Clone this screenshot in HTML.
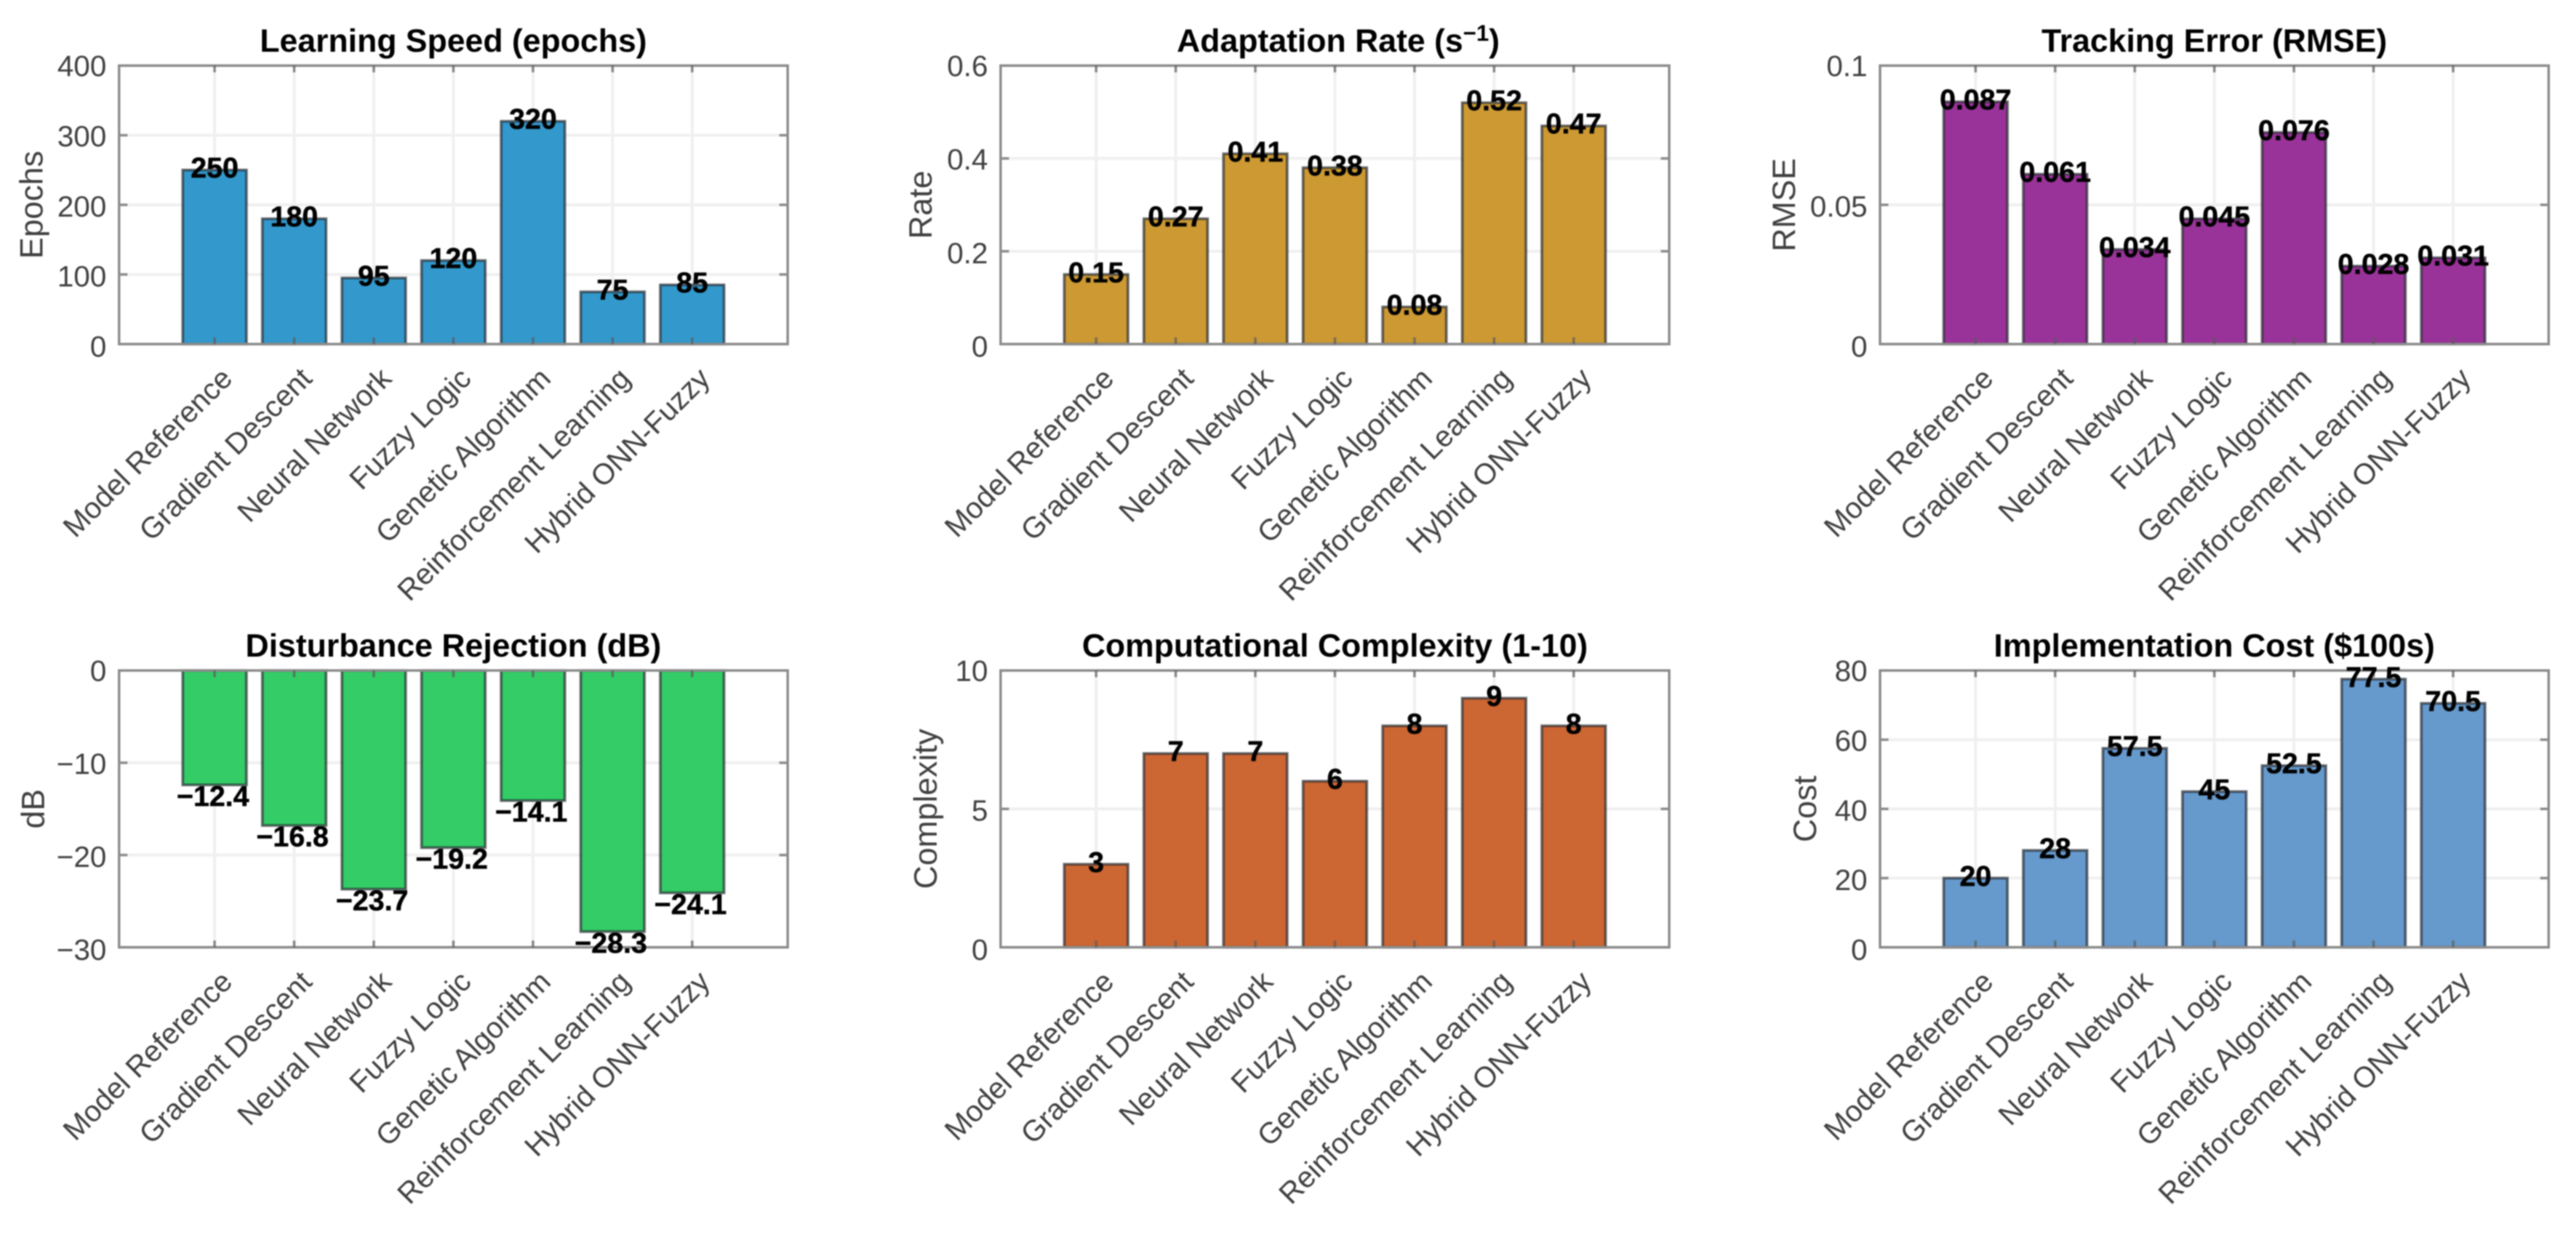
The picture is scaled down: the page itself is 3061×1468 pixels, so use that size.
<!DOCTYPE html>
<html lang="en">
<head>
<meta charset="utf-8">
<title>Adaptive control method comparison</title>
<style>
  html, body { margin: 0; padding: 0; background: #ffffff; width: 3061px; height: 1468px; overflow: hidden; }
  #figure { display: block; filter: blur(0.9px); text-rendering: geometricPrecision; font-family: "Liberation Sans", Arial, sans-serif; }
</style>
</head>
<body>
<svg id="figure" xmlns="http://www.w3.org/2000/svg" width="3061" height="1468" viewBox="0 0 3061 1468"></svg>
<script>
// ---- Chart data ----
const categories = ["Model Reference", "Gradient Descent", "Neural Network", "Fuzzy Logic", "Genetic Algorithm", "Reinforcement Learning", "Hybrid ONN-Fuzzy"];

const learningSpeedValues = [250, 180, 95, 120, 320, 75, 85];
const adaptationRateValues = [0.15, 0.27, 0.41, 0.38, 0.08, 0.52, 0.47];
const trackingErrorValues = [0.087, 0.061, 0.034, 0.045, 0.076, 0.028, 0.031];
const disturbanceRejectionValues = [-12.4, -16.8, -23.7, -19.2, -14.1, -28.3, -24.1];
const complexityValues = [3, 7, 7, 6, 8, 9, 8];
const costValues = [20, 28, 57.5, 45, 52.5, 77.5, 70.5];

const learningSpeedTicks = [0, 100, 200, 300, 400];
const adaptationRateTicks = [0, 0.2, 0.4, 0.6];
const trackingErrorTicks = [0, 0.05, 0.1];
const disturbanceRejectionTicks = [-30, -20, -10, 0];
const complexityTicks = [0, 5, 10];
const costTicks = [0, 20, 40, 60, 80];

const learningSpeedTickLabels = ["0", "100", "200", "300", "400"];
const adaptationRateTickLabels = ["0", "0.2", "0.4", "0.6"];
const trackingErrorTickLabels = ["0", "0.05", "0.1"];
const disturbanceRejectionTickLabels = ["\u221230", "\u221220", "\u221210", "0"];
const complexityTickLabels = ["0", "5", "10"];
const costTickLabels = ["0", "20", "40", "60", "80"];

// ---- Layout ----
const SVG_NS = "http://www.w3.org/2000/svg";
const figure = document.getElementById("figure");
const PANEL_WIDTH = 794.5;
const TOP_ROW = { top: 78, bottom: 409 };
const BOTTOM_ROW = { top: 797, bottom: 1126 };
const COLUMN_LEFT = [141.5, 1189, 2234];
const X_MIN = -0.2;
const X_MAX = 8.2;
const BAR_WIDTH = 0.8;

function make(tag, attrs, parent) {
  const el = document.createElementNS(SVG_NS, tag);
  for (const key in attrs) el.setAttribute(key, attrs[key]);
  parent.appendChild(el);
  return el;
}

function xScale(position, left) {
  return left + (position - X_MIN) / (X_MAX - X_MIN) * PANEL_WIDTH;
}

function yScale(value, ticks, row) {
  const low = ticks[0];
  const high = ticks[ticks.length - 1];
  return row.bottom - (value - low) / (high - low) * (row.bottom - row.top);
}

function formatValue(value) {
  return String(value).replace("-", "\u2212");
}

function drawPanel(slug, left, row, title, yLabel, yLabelOffset, values, ticks, tickLabels, color, superscript) {
  const right = left + PANEL_WIDTH;
  const panel = make("g", {}, figure);
  
  

  // Axes background
  const plotArea = make("rect", { x: left, y: row.top, width: PANEL_WIDTH, height: row.bottom - row.top, fill: "#ffffff" }, panel);
  
  

  // Gridlines
  ticks.forEach(function (tick) {
    const y = yScale(tick, ticks, row);
    const gridY = make("line", { x1: left, x2: right, y1: y, y2: y, stroke: "#f0f0f0", "stroke-width": 3.5 }, panel);
    
    
  });
  categories.forEach(function (category, i) {
    const x = xScale(i + 1, left);
    const gridX = make("line", { x1: x, x2: x, y1: row.top, y2: row.bottom, stroke: "#f0f0f0", "stroke-width": 3.5 }, panel);
    
    
  });

  // Bars
  const zeroY = yScale(0, ticks, row);
  values.forEach(function (value, i) {
    const x0 = xScale(i + 1 - BAR_WIDTH / 2, left);
    const x1 = xScale(i + 1 + BAR_WIDTH / 2, left);
    const valueY = yScale(value, ticks, row);
    const bar = make("rect", {
      x: x0,
      y: Math.min(zeroY, valueY),
      width: x1 - x0,
      height: Math.abs(valueY - zeroY),
      fill: color,
      stroke: "rgba(35,40,45,0.68)",
      "stroke-width": 3.2
    }, panel);
    
    
  });

  // Axes box
  const box = make("rect", { x: left, y: row.top, width: PANEL_WIDTH, height: row.bottom - row.top, fill: "none", stroke: "#8c8c8c", "stroke-width": 3 }, panel);
  
  

  // Tick marks (inward, all four sides) and y tick labels
  ticks.forEach(function (tick, i) {
    const y = yScale(tick, ticks, row);
    const tickLeft = make("line", { x1: left, x2: left + 10, y1: y, y2: y, stroke: "#8c8c8c", "stroke-width": 3 }, panel);
    
    
    const tickRight = make("line", { x1: right - 10, x2: right, y1: y, y2: y, stroke: "#8c8c8c", "stroke-width": 3 }, panel);
    
    
    const labelDrop = 12.5 + 2.5 * (y - row.top) / (row.bottom - row.top);
    const label = make("text", { x: left - 15, y: y + labelDrop, "text-anchor": "end", "font-size": 35, fill: "#404040" }, panel);
    label.textContent = tickLabels[i];
    
    
  });

  categories.forEach(function (category, i) {
    const x = xScale(i + 1, left);
    const tickBottom = make("line", { x1: x, x2: x, y1: row.bottom - 8, y2: row.bottom, stroke: "rgba(90,90,90,0.7)", "stroke-width": 3 }, panel);
    
    
    const tickTop = make("line", { x1: x, x2: x, y1: row.top, y2: row.top + 8, stroke: "rgba(90,90,90,0.7)", "stroke-width": 3 }, panel);
    
    

    const ax = x + 23;
    const ay = row.bottom + 43;
    const label = make("text", {
      x: ax,
      y: ay,
      "text-anchor": "end",
      "font-size": 35,
      fill: "#404040",
      transform: "rotate(-45 " + ax + " " + ay + ")"
    }, panel);
    label.textContent = category;
    
    
  });

  // Printed values
  values.forEach(function (value, i) {
    const x = xScale(i + 1, left);
    const valueY = yScale(value, ticks, row);
    const baseline = value < 0 ? valueY + 25 : valueY + 9;
    const valueLabel = make("text", {
      x: value < 0 ? x - 2 : x,
      y: baseline,
      "text-anchor": "middle",
      "font-size": 34,
      "font-weight": "bold",
      fill: "#000000",
      stroke: "#000000",
      "stroke-width": 0.5
    }, panel);
    valueLabel.textContent = formatValue(value);
    
    
  });

  // Title
  const titleEl = make("text", {
    x: left + PANEL_WIDTH / 2 + (superscript ? 4 : 0),
    y: row.top - 16.5,
    "text-anchor": "middle",
    "font-size": 38.5,
    "font-weight": "bold",
    fill: "#000000"
  }, panel);
  
  
  if (superscript) {
    const before = make("tspan", {}, titleEl);
    before.textContent = title;
    const sup = make("tspan", { dy: -13, "font-size": 27 }, titleEl);
    sup.textContent = superscript;
    const after = make("tspan", { dy: 13 }, titleEl);
    after.textContent = ")";
  } else {
    titleEl.textContent = title;
  }

  // Y axis title
  const yx = left - yLabelOffset;
  const yy = (row.top + row.bottom) / 2;
  const yTitle = make("text", {
    x: yx,
    y: yy,
    "text-anchor": "middle",
    "font-size": 38.5,
    fill: "#404040",
    transform: "rotate(-90 " + yx + " " + yy + ")"
  }, panel);
  yTitle.textContent = yLabel;
  
  
}

drawPanel("learning-speed", COLUMN_LEFT[0], TOP_ROW, "Learning Speed (epochs)", "Epochs", 91, learningSpeedValues, learningSpeedTicks, learningSpeedTickLabels, "#3399cc");
drawPanel("adaptation-rate", COLUMN_LEFT[1], TOP_ROW, "Adaptation Rate (s", "Rate", 82, adaptationRateValues, adaptationRateTicks, adaptationRateTickLabels, "#cc9933", "\u22121");
drawPanel("tracking-error", COLUMN_LEFT[2], TOP_ROW, "Tracking Error (RMSE)", "RMSE", 101, trackingErrorValues, trackingErrorTicks, trackingErrorTickLabels, "#993399");
drawPanel("disturbance-rejection", COLUMN_LEFT[0], BOTTOM_ROW, "Disturbance Rejection (dB)", "dB", 89, disturbanceRejectionValues, disturbanceRejectionTicks, disturbanceRejectionTickLabels, "#33cc66");
drawPanel("computational-complexity", COLUMN_LEFT[1], BOTTOM_ROW, "Computational Complexity (1-10)", "Complexity", 76, complexityValues, complexityTicks, complexityTickLabels, "#cc6633");
drawPanel("implementation-cost", COLUMN_LEFT[2], BOTTOM_ROW, "Implementation Cost ($100s)", "Cost", 76, costValues, costTicks, costTickLabels, "#6699cc");
</script>
</body>
</html>
